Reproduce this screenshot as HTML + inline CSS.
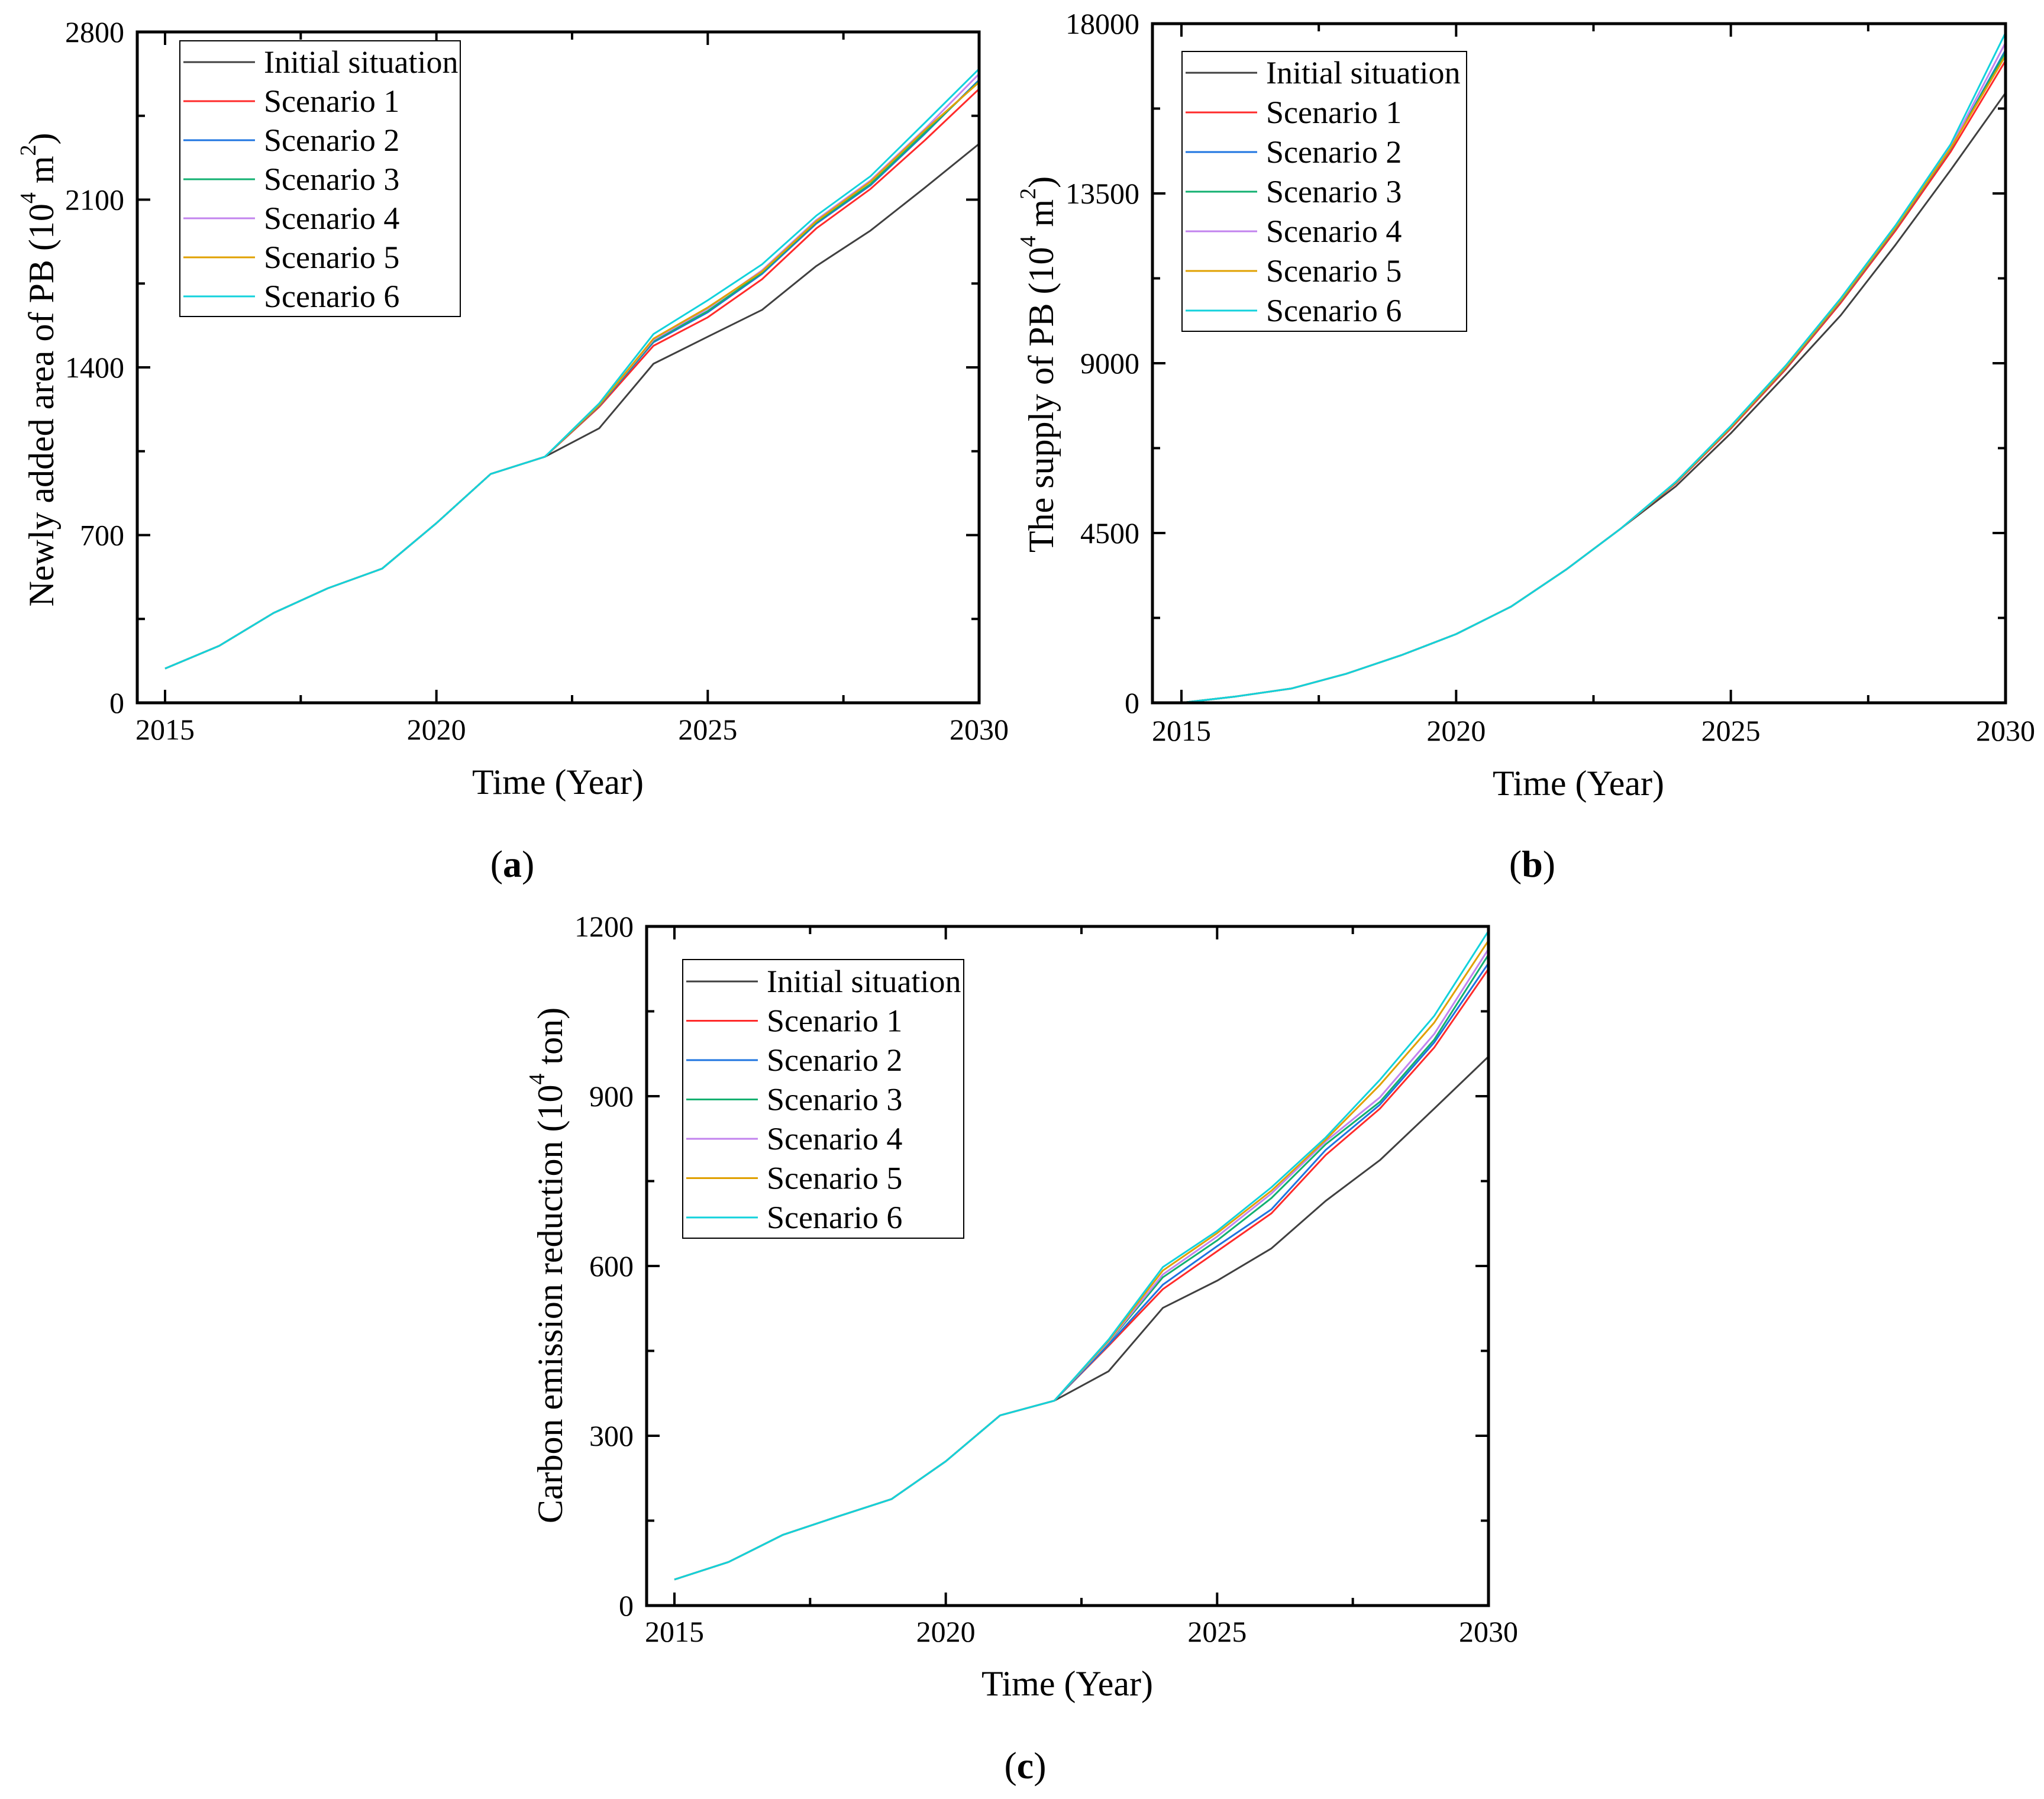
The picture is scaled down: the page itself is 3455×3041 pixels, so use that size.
<!DOCTYPE html>
<html><head><meta charset="utf-8"><style>
html,body{margin:0;padding:0;background:#fff;}
svg{display:block;}
svg text{font-family:"Liberation Serif",serif;}
</style></head><body>
<svg id="fig" width="3455" height="3041" viewBox="0 0 3455 3041" xmlns="http://www.w3.org/2000/svg"></svg>
<script>
const years = [2015,2016,2017,2018,2019,2020,2021,2022,2023,2024,2025,2026,2027,2028,2029,2030];
const seriesNames = ["Initial situation","Scenario 1","Scenario 2","Scenario 3","Scenario 4","Scenario 5","Scenario 6"];
const xTicks = [2015,2020,2025,2030];

// Panel (a): newly added area
const aTicks = [0,700,1400,2100,2800];
const aInit = [143,238,375,478,560,750,955,1027,1146,1415,1528,1640,1823,1971,2150,2333];
const aS1 = [143,238,375,478,560,750,955,1027,1235,1490,1609,1768,1980,2145,2348,2562];
const aS2 = [143,238,375,478,560,750,955,1027,1240,1505,1630,1790,2000,2160,2375,2600];
const aS3 = [143,238,375,478,560,750,955,1027,1242,1510,1635,1795,2005,2165,2380,2595];
const aS4 = [143,238,375,478,560,750,955,1027,1244,1515,1645,1805,2015,2180,2395,2625];
const aS5 = [143,238,375,478,560,750,955,1027,1243,1520,1650,1800,2010,2175,2390,2590];
const aS6 = [143,238,375,478,560,750,955,1027,1250,1539,1680,1830,2033,2198,2421,2646];

// Panel (b): supply
const bTicks = [0,4500,9000,13500,18000];
const bInit = [0,170,378,770,1260,1820,2550,3530,4620,5740,7145,8685,10270,12145,14120,16165];
const bS1 = [0,170,378,770,1260,1820,2550,3530,4620,5820,7270,8840,10600,12520,14600,17020];
const bS2 = [0,170,378,770,1260,1820,2550,3530,4620,5835,7300,8880,10650,12580,14680,17300];
const bS3 = [0,170,378,770,1260,1820,2550,3530,4620,5840,7305,8890,10660,12590,14690,17250];
const bS4 = [0,170,378,770,1260,1820,2550,3530,4620,5845,7315,8905,10680,12610,14720,17500];
const bS5 = [0,170,378,770,1260,1820,2550,3530,4620,5840,7310,8895,10670,12600,14700,17150];
const bS6 = [0,170,378,770,1260,1820,2550,3530,4620,5860,7340,8940,10720,12660,14800,17760];

// Panel (c): carbon reduction
const cTicks = [0,300,600,900,1200];
const cInit = [46,77,125,157,188,255,336,362,414,526,574,631,715,787,878,970];
const cS1 = [46,77,125,157,188,255,336,362,459,559,626,693,796,878,986,1125];
const cS2 = [46,77,125,157,188,255,336,362,461,567,635,700,805,885,995,1135];
const cS3 = [46,77,125,157,188,255,336,362,465,580,645,720,815,890,1000,1150];
const cS4 = [46,77,125,157,188,255,336,362,466,585,652,728,820,898,1010,1160];
const cS5 = [46,77,125,157,188,255,336,362,468,592,658,733,823,920,1030,1175];
const cS6 = [46,77,125,157,188,255,336,362,470,598,662,739,827,929,1042,1192];

const colors = ["#404040","#ff2a2a","#1e74e0","#12b070","#c283ee","#e0a000","#12d2dc"];
const NS = "http://www.w3.org/2000/svg";
const svg = document.getElementById("fig");
const FF = '"Liberation Serif", serif';

function mk(tag, attrs, parent){
  const e = document.createElementNS(NS, tag);
  for (const k in attrs) e.setAttribute(k, attrs[k]);
  if (tag === "text") e.setAttribute("font-family", FF);
  (parent||svg).appendChild(e);
  return e;
}

function panel(cfg){
  const g = mk("g", {});
  
  
  const L=cfg.L,R=cfg.R,T=cfg.T,B=cfg.B;
  const ymax = cfg.ticks[cfg.ticks.length-1];
  const xs = v => cfg.x0 + (v-2015)*(R-cfg.x0)/15;
  const ys = v => B - v*(B-T)/ymax;
  cfg.series.forEach((arr,i)=>{
    const d = arr.map((v,j)=>(j?"L":"M")+xs(years[j]).toFixed(1)+","+ys(v).toFixed(1)).join(" ");
    const p = mk("path",{d:d,fill:"none",stroke:colors[i],"stroke-width":3,"stroke-linejoin":"round"},g);
    
    
  });
  const fr = mk("rect",{x:L,y:T,width:R-L,height:B-T,fill:"none",stroke:"#000","stroke-width":5},g);
  
  
  const xt = [];
  for (let y=2015;y<=2030;y+=2.5) xt.push(y);
  xt.forEach(v=>{
    const major = xTicks.includes(v);
    const len = major?22:13;
    const x = xs(v);
    mk("line",{x1:x,y1:B,x2:x,y2:B-len,stroke:"#000","stroke-width":4},g);
    mk("line",{x1:x,y1:T,x2:x,y2:T+len,stroke:"#000","stroke-width":4},g);
  });
  xTicks.forEach(v=>{
    const t = mk("text",{x:xs(v),y:cfg.xlabY,"font-size":50,"text-anchor":"middle","dominant-baseline":"central"},g);
    t.textContent = v;
    
    
  });
  const step = cfg.ticks[1]/2;
  for (let v=0; v<=ymax+1e-6; v+=step){
    const major = cfg.ticks.includes(v);
    const len = major?22:13;
    const y = ys(v);
    mk("line",{x1:L,y1:y,x2:L+len,y2:y,stroke:"#000","stroke-width":4},g);
    mk("line",{x1:R,y1:y,x2:R-len,y2:y,stroke:"#000","stroke-width":4},g);
  }
  cfg.ticks.forEach(v=>{
    const t = mk("text",{x:L-22,y:ys(v),"font-size":50,"text-anchor":"end","dominant-baseline":"central"},g);
    t.textContent = v;
    
    
  });
  const xtT = mk("text",{x:cfg.xtitle[0],y:cfg.xtitle[1],"font-size":60,"text-anchor":"middle","dominant-baseline":"central"},g);
  xtT.textContent = "Time (Year)";
  
  
  const ytT = mk("text",{x:0,y:0,"font-size":60,"text-anchor":"middle","dominant-baseline":"central",transform:`translate(${cfg.ytitle[0]},${cfg.ytitle[1]}) rotate(-90)`},g);
  
  
  const s1 = mk("tspan",{},ytT); s1.textContent = cfg.ytext + " (10";
  const s2 = mk("tspan",{"font-size":38,dy:-22},ytT); s2.textContent = "4";
  const s3 = mk("tspan",{dy:22},ytT); s3.textContent = " " + cfg.yunit;
  if (cfg.yunitSup){ const s4 = mk("tspan",{"font-size":38,dy:-22},ytT); s4.textContent = cfg.yunitSup; const s5 = mk("tspan",{dy:22},ytT); s5.textContent=")"; }
  else { const s5 = mk("tspan",{},ytT); s5.textContent=")"; }
  const lg = cfg.leg;
  const lb = mk("g",{},g);
  
  
  mk("rect",{x:lg.x,y:lg.y,width:lg.w,height:lg.h,fill:"#fff",stroke:"#000","stroke-width":2},lb);
  seriesNames.forEach((n,i)=>{
    const yy = lg.r0 + i*lg.dy;
    const e = mk("g",{},lb);
    
    
    mk("line",{x1:lg.x+6,y1:yy,x2:lg.x+127,y2:yy,stroke:colors[i],"stroke-width":3},e);
    const t = mk("text",{x:lg.x+142,y:yy,"font-size":54,"dominant-baseline":"central"},e);
    t.textContent = n;
  });
  const pl = mk("text",{x:cfg.plab[0],y:cfg.plab[1],"font-size":64,"text-anchor":"middle","dominant-baseline":"central"},g);
  pl.textContent = "(" ;
  const b = mk("tspan",{"font-weight":"bold"},pl); b.textContent = cfg.id;
  const c = mk("tspan",{},pl); c.textContent = ")";
  
  
}

panel({id:"a",L:232,R:1655,T:54,B:1188,x0:279,ticks:aTicks,
  series:[aInit,aS1,aS2,aS3,aS4,aS5,aS6],xlabY:1233,xtitle:[943,1322],ytitle:[70,625],
  ytext:"Newly added area of PB",yunit:"m",yunitSup:"2",
  leg:{x:304,y:69,w:474,h:466,r0:105,dy:66},plab:[866,1460]});
panel({id:"b",L:1948,R:3390,T:40,B:1188,x0:1997,ticks:bTicks,
  series:[bInit,bS1,bS2,bS3,bS4,bS5,bS6],xlabY:1235,xtitle:[2668,1324],ytitle:[1760,616],
  ytext:"The supply of PB",yunit:"m",yunitSup:"2",
  leg:{x:1998,y:87,w:481,h:473,r0:123,dy:67},plab:[2590,1460]});
panel({id:"c",L:1093,R:2516,T:1566,B:2714,x0:1140,ticks:cTicks,
  series:[cInit,cS1,cS2,cS3,cS4,cS5,cS6],xlabY:2758,xtitle:[1804,2846],ytitle:[930,2139],
  ytext:"Carbon emission reduction",yunit:"ton",yunitSup:"",
  leg:{x:1154,y:1622,w:475,h:471,r0:1659,dy:66.5},plab:[1733,2984]});
</script>
</body></html>
